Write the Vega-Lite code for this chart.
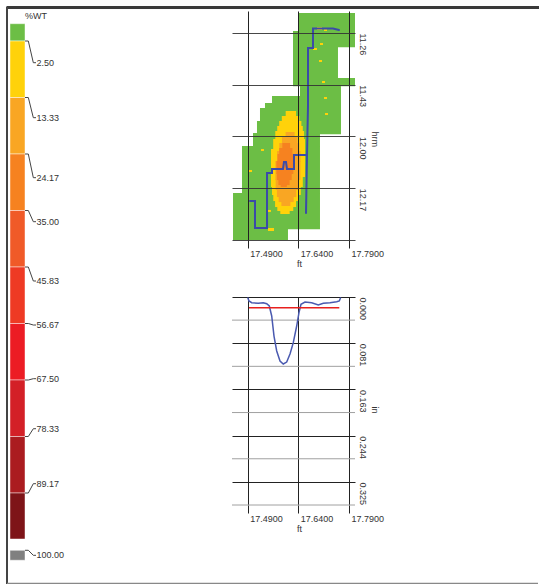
{
  "$schema": "https://vega.github.io/schema/vega-lite/v6.json",
  "background": "white",
  "padding": {"left": 5, "top": 5, "right": 0, "bottom": 0},
  "bounds": "flush",
  "spacing": 144,
  "config": {
    "view": {"stroke": null},
    "axis": {"labelFont": "Liberation Sans", "titleFont": "Liberation Sans", "labelFontSize": 9, "titleFontSize": 9, "labelColor": "#333", "titleColor": "#333", "titleFontWeight": "normal", "labelFlush": false, "labelOverlap": false},
    "text": {"font": "Liberation Sans", "fontSize": 9, "fill": "#333"}
  },
  "datasets": {
    "legend": [
      {"cls": "0-2.50", "lo": -0.306, "hi": 0},
      {"cls": "2.50-13.33", "lo": 0, "hi": 1},
      {"cls": "13.33-24.17", "lo": 1, "hi": 2},
      {"cls": "24.17-35.00", "lo": 2, "hi": 3},
      {"cls": "35.00-45.83", "lo": 3, "hi": 4},
      {"cls": "45.83-56.67", "lo": 4, "hi": 5},
      {"cls": "56.67-67.50", "lo": 5, "hi": 6},
      {"cls": "67.50-78.33", "lo": 6, "hi": 7},
      {"cls": "78.33-89.17", "lo": 7, "hi": 8},
      {"cls": "89.17-100.00", "lo": 8, "hi": 8.814},
      {"cls": "100.00+", "lo": 9.014, "hi": 9.19}
    ],
    "leaders": [
      {"label": "2.50", "b": 0, "l": 0.384},
      {"label": "13.33", "b": 1, "l": 1.357},
      {"label": "24.17", "b": 2, "l": 2.419},
      {"label": "35.00", "b": 3, "l": 3.198},
      {"label": "45.83", "b": 4, "l": 4.248},
      {"label": "56.67", "b": 5, "l": 5.027},
      {"label": "67.50", "b": 6, "l": 5.977},
      {"label": "78.33", "b": 7, "l": 6.862},
      {"label": "89.17", "b": 8, "l": 7.835},
      {"label": "100.00", "b": 9.014, "l": 9.103}
    ],
    "cells": [
      {"cls": "0-2.50", "x0": 17.6390, "x1": 17.8078, "t0": 679.46, "t1": 685.77},
      {"cls": "0-2.50", "x0": 17.6242, "x1": 17.8078, "t0": 685.37, "t1": 690.69},
      {"cls": "0-2.50", "x0": 17.6242, "x1": 17.7574, "t0": 690.29, "t1": 701.20},
      {"cls": "0-2.50", "x0": 17.6242, "x1": 17.8078, "t0": 700.80, "t1": 703.50},
      {"cls": "0-2.50", "x0": 17.6449, "x1": 17.7663, "t0": 703.10, "t1": 719.26},
      {"cls": "0-2.50", "x0": 17.5620, "x1": 17.6597, "t0": 706.71, "t1": 709.41},
      {"cls": "0-2.50", "x0": 17.5412, "x1": 17.6597, "t0": 709.01, "t1": 711.05},
      {"cls": "0-2.50", "x0": 17.5264, "x1": 17.6597, "t0": 710.65, "t1": 715.32},
      {"cls": "0-2.50", "x0": 17.5175, "x1": 17.6597, "t0": 714.92, "t1": 719.26},
      {"cls": "0-2.50", "x0": 17.5057, "x1": 17.7041, "t0": 718.86, "t1": 723.53},
      {"cls": "0-2.50", "x0": 17.4731, "x1": 17.7041, "t0": 723.13, "t1": 738.97},
      {"cls": "0-2.50", "x0": 17.4465, "x1": 17.7041, "t0": 738.57, "t1": 750.46},
      {"cls": "0-2.50", "x0": 17.4465, "x1": 17.6093, "t0": 750.06, "t1": 754.0},
      {"cls": "2.50-13.33", "x0": 17.6025, "x1": 17.6333, "t0": 711.64, "t1": 713.63},
      {"cls": "2.50-13.33", "x0": 17.5910, "x1": 17.6431, "t0": 713.28, "t1": 715.27},
      {"cls": "2.50-13.33", "x0": 17.5833, "x1": 17.6490, "t0": 714.92, "t1": 716.91},
      {"cls": "2.50-13.33", "x0": 17.5774, "x1": 17.6532, "t0": 716.56, "t1": 718.56},
      {"cls": "2.50-13.33", "x0": 17.5717, "x1": 17.6570, "t0": 718.21, "t1": 721.18},
      {"cls": "2.50-13.33", "x0": 17.5655, "x1": 17.6597, "t0": 720.83, "t1": 724.47},
      {"cls": "2.50-13.33", "x0": 17.5590, "x1": 17.6597, "t0": 724.12, "t1": 733.33},
      {"cls": "2.50-13.33", "x0": 17.5590, "x1": 17.6532, "t0": 732.98, "t1": 736.62},
      {"cls": "2.50-13.33", "x0": 17.5620, "x1": 17.6473, "t0": 736.27, "t1": 739.24},
      {"cls": "2.50-13.33", "x0": 17.5658, "x1": 17.6404, "t0": 738.89, "t1": 741.21},
      {"cls": "2.50-13.33", "x0": 17.5711, "x1": 17.6333, "t0": 740.86, "t1": 743.18},
      {"cls": "2.50-13.33", "x0": 17.5777, "x1": 17.6250, "t0": 742.83, "t1": 744.50},
      {"cls": "2.50-13.33", "x0": 17.5865, "x1": 17.6144, "t0": 744.15, "t1": 745.46},
      {"cls": "13.33-24.17", "x0": 17.6022, "x1": 17.6289, "t0": 718.53, "t1": 720.53},
      {"cls": "13.33-24.17", "x0": 17.5913, "x1": 17.6375, "t0": 720.18, "t1": 722.50},
      {"cls": "13.33-24.17", "x0": 17.5836, "x1": 17.6428, "t0": 722.15, "t1": 725.12},
      {"cls": "13.33-24.17", "x0": 17.5771, "x1": 17.6464, "t0": 724.77, "t1": 728.41},
      {"cls": "13.33-24.17", "x0": 17.5720, "x1": 17.6461, "t0": 728.06, "t1": 734.32},
      {"cls": "13.33-24.17", "x0": 17.5729, "x1": 17.6404, "t0": 733.97, "t1": 737.60},
      {"cls": "13.33-24.17", "x0": 17.5765, "x1": 17.6339, "t0": 737.25, "t1": 739.90},
      {"cls": "13.33-24.17", "x0": 17.5818, "x1": 17.6262, "t0": 739.55, "t1": 741.54},
      {"cls": "13.33-24.17", "x0": 17.5898, "x1": 17.6165, "t0": 741.19, "t1": 742.83},
      {"cls": "24.17-35.00", "x0": 17.5925, "x1": 17.6156, "t0": 722.15, "t1": 724.14},
      {"cls": "24.17-35.00", "x0": 17.5833, "x1": 17.6224, "t0": 723.79, "t1": 726.11},
      {"cls": "24.17-35.00", "x0": 17.5783, "x1": 17.6256, "t0": 725.76, "t1": 728.41},
      {"cls": "24.17-35.00", "x0": 17.5750, "x1": 17.6253, "t0": 728.06, "t1": 732.35},
      {"cls": "24.17-35.00", "x0": 17.5765, "x1": 17.6203, "t0": 732.00, "t1": 734.32},
      {"cls": "24.17-35.00", "x0": 17.5809, "x1": 17.6141, "t0": 733.97, "t1": 735.96},
      {"cls": "24.17-35.00", "x0": 17.5877, "x1": 17.6061, "t0": 735.61, "t1": 736.59},
      {"cls": "2.50-13.33", "x0": 17.6952, "x1": 17.7100, "t0": 684.05, "t1": 685.04},
      {"cls": "2.50-13.33", "x0": 17.7159, "x1": 17.7248, "t0": 684.71, "t1": 685.37},
      {"cls": "2.50-13.33", "x0": 17.6834, "x1": 17.6952, "t0": 690.95, "t1": 691.61},
      {"cls": "2.50-13.33", "x0": 17.7041, "x1": 17.7130, "t0": 689.31, "t1": 689.96},
      {"cls": "2.50-13.33", "x0": 17.7011, "x1": 17.7100, "t0": 694.89, "t1": 695.55},
      {"cls": "2.50-13.33", "x0": 17.7100, "x1": 17.7189, "t0": 701.79, "t1": 702.44},
      {"cls": "2.50-13.33", "x0": 17.7159, "x1": 17.7248, "t0": 707.04, "t1": 707.70},
      {"cls": "2.50-13.33", "x0": 17.7189, "x1": 17.7278, "t0": 712.30, "t1": 712.96},
      {"cls": "2.50-13.33", "x0": 17.5294, "x1": 17.5382, "t0": 724.12, "t1": 724.77},
      {"cls": "2.50-13.33", "x0": 17.4938, "x1": 17.5027, "t0": 731.01, "t1": 731.67},
      {"cls": "2.50-13.33", "x0": 17.5472, "x1": 17.5590, "t0": 744.13, "t1": 744.79},
      {"cls": "2.50-13.33", "x0": 17.5501, "x1": 17.5679, "t0": 750.06, "t1": 751.04}
    ],
    "trace": [
      {"seg": "a", "i": 1, "ft": 17.7604, "t": 685.04},
      {"seg": "a", "i": 2, "ft": 17.7426, "t": 684.55},
      {"seg": "a", "i": 3, "ft": 17.6834, "t": 684.55},
      {"seg": "a", "i": 4, "ft": 17.6834, "t": 690.95},
      {"seg": "a", "i": 5, "ft": 17.6686, "t": 690.95},
      {"seg": "a", "i": 6, "ft": 17.6686, "t": 710.00},
      {"seg": "a", "i": 7, "ft": 17.6656, "t": 726.42},
      {"seg": "a", "i": 8, "ft": 17.6627, "t": 745.13},
      {"seg": "b", "i": 1, "ft": 17.6656, "t": 726.09},
      {"seg": "b", "i": 2, "ft": 17.6271, "t": 726.09},
      {"seg": "b", "i": 3, "ft": 17.6271, "t": 730.68},
      {"seg": "b", "i": 4, "ft": 17.6064, "t": 730.68},
      {"seg": "b", "i": 5, "ft": 17.6034, "t": 728.39},
      {"seg": "b", "i": 6, "ft": 17.5975, "t": 728.39},
      {"seg": "b", "i": 7, "ft": 17.5945, "t": 730.68},
      {"seg": "b", "i": 8, "ft": 17.5620, "t": 730.68},
      {"seg": "b", "i": 9, "ft": 17.5620, "t": 732.00},
      {"seg": "b", "i": 10, "ft": 17.5472, "t": 732.00},
      {"seg": "b", "i": 11, "ft": 17.5472, "t": 750.06},
      {"seg": "b", "i": 12, "ft": 17.5116, "t": 750.06},
      {"seg": "b", "i": 13, "ft": 17.5116, "t": 741.19},
      {"seg": "b", "i": 14, "ft": 17.4968, "t": 741.19}
    ],
    "profile": [
      {"i": 1, "ft": 17.4900, "d": 0.0008},
      {"i": 2, "ft": 17.4938, "d": 0.0070},
      {"i": 3, "ft": 17.5018, "d": 0.0100},
      {"i": 4, "ft": 17.5214, "d": 0.0111},
      {"i": 5, "ft": 17.5362, "d": 0.0100},
      {"i": 6, "ft": 17.5463, "d": 0.0118},
      {"i": 7, "ft": 17.5540, "d": 0.0158},
      {"i": 8, "ft": 17.5611, "d": 0.0334},
      {"i": 9, "ft": 17.5679, "d": 0.0686},
      {"i": 10, "ft": 17.5759, "d": 0.0949},
      {"i": 11, "ft": 17.5857, "d": 0.1125},
      {"i": 12, "ft": 17.5954, "d": 0.1178},
      {"i": 13, "ft": 17.6055, "d": 0.1143},
      {"i": 14, "ft": 17.6153, "d": 0.1002},
      {"i": 15, "ft": 17.6250, "d": 0.0803},
      {"i": 16, "ft": 17.6351, "d": 0.0510},
      {"i": 17, "ft": 17.6419, "d": 0.0276},
      {"i": 18, "ft": 17.6478, "d": 0.0128},
      {"i": 19, "ft": 17.6597, "d": 0.0088},
      {"i": 20, "ft": 17.6795, "d": 0.0100},
      {"i": 21, "ft": 17.6991, "d": 0.0141},
      {"i": 22, "ft": 17.7139, "d": 0.0111},
      {"i": 23, "ft": 17.7337, "d": 0.0100},
      {"i": 24, "ft": 17.7536, "d": 0.0083},
      {"i": 25, "ft": 17.7613, "d": 0.0070},
      {"i": 26, "ft": 17.7654, "d": 0.0008}
    ],
    "ref": [
      {"x0": 17.4938, "x1": 17.7613, "d": 0.0188}
    ],
    "minor": [
      {"d": 0.040625}, {"d": 0.121875}, {"d": 0.203125}, {"d": 0.284375}, {"d": 0.365625}
    ]
  },
  "hconcat": [
    {
      "width": 80,
      "height": 555,
      "layer": [
        {
          "data": {"name": "legend"},
          "mark": {"type": "rect", "stroke": "#ffffff", "strokeOpacity": 0.45, "strokeWidth": 1},
          "encoding": {
            "x": {"datum": 0.5, "type": "quantitative", "scale": {"domain": [0, 20], "nice": false, "zero": false}, "axis": null},
            "x2": {"datum": 4.25},
            "y": {"field": "lo", "type": "quantitative", "scale": {"domain": [-0.531, 9.292], "nice": false, "zero": false, "reverse": true}, "axis": null},
            "y2": {"field": "hi"},
            "color": {
              "field": "cls", "type": "nominal", "legend": null,
              "scale": {
                "domain": ["0-2.50", "2.50-13.33", "13.33-24.17", "24.17-35.00", "35.00-45.83", "45.83-56.67", "56.67-67.50", "67.50-78.33", "78.33-89.17", "89.17-100.00", "100.00+"],
                "range": ["#6CBE45", "#FFD20A", "#F9A623", "#F68220", "#F05A28", "#EE3A24", "#EC1C24", "#D32027", "#AB1C20", "#7E1418", "#808080"]
              }
            }
          }
        },
        {
          "data": {"name": "leaders"},
          "mark": {"type": "rule", "color": "#444", "strokeWidth": 1},
          "encoding": {
            "x": {"datum": 4.25, "type": "quantitative"},
            "x2": {"datum": 5.08},
            "y": {"field": "b", "type": "quantitative"}
          }
        },
        {
          "data": {"name": "leaders"},
          "mark": {"type": "rule", "color": "#444", "strokeWidth": 1},
          "encoding": {
            "x": {"datum": 5.08, "type": "quantitative"},
            "x2": {"datum": 6.33},
            "y": {"field": "b", "type": "quantitative"},
            "y2": {"field": "l"}
          }
        },
        {
          "data": {"name": "leaders"},
          "mark": {"type": "rule", "color": "#444", "strokeWidth": 1},
          "encoding": {
            "x": {"datum": 6.33, "type": "quantitative"},
            "x2": {"datum": 7.0},
            "y": {"field": "l", "type": "quantitative"}
          }
        },
        {
          "data": {"name": "leaders"},
          "mark": {"type": "text", "align": "left", "baseline": "middle"},
          "encoding": {
            "x": {"datum": 7.15, "type": "quantitative"},
            "y": {"field": "l", "type": "quantitative"},
            "text": {"field": "label"}
          }
        },
        {
          "data": {"values": [{"t": "%WT"}]},
          "mark": {"type": "text", "align": "center", "baseline": "middle"},
          "encoding": {
            "x": {"datum": 7.0, "type": "quantitative"},
            "y": {"datum": -0.434, "type": "quantitative"},
            "text": {"field": "t"}
          }
        },
        {
          "data": {"values": [{}]},
          "mark": {"type": "rule", "color": "#3a3a3a", "strokeWidth": 3, "clip": false},
          "encoding": {
            "x": {"datum": -0.375, "type": "quantitative"},
            "x2": {"datum": 132.75},
            "y": {"datum": -0.5929, "type": "quantitative"}
          }
        },
        {
          "data": {"values": [{}]},
          "mark": {"type": "rule", "color": "#444444", "strokeWidth": 2, "clip": false},
          "encoding": {
            "x": {"datum": -0.25, "type": "quantitative"},
            "y": {"datum": -0.6018, "type": "quantitative"},
            "y2": {"datum": 9.6106}
          }
        },
        {
          "data": {"values": [{}]},
          "mark": {"type": "rule", "color": "#888888", "strokeWidth": 1.5, "clip": false},
          "encoding": {
            "x": {"datum": -0.25, "type": "quantitative"},
            "x2": {"datum": 132.5},
            "y": {"datum": 9.6018, "type": "quantitative"}
          }
        }
      ]
    },
    {
      "vconcat": [
        {
          "width": 123,
          "height": 229,
          "layer": [
            {
              "data": {"name": "cells"},
              "mark": {"type": "rect", "clip": true},
              "encoding": {
                "x": {
                  "field": "x0", "type": "quantitative",
                  "scale": {"domain": [17.4435, 17.8078], "nice": false, "zero": false},
                  "axis": {"orient": "bottom", "values": [17.49, 17.64, 17.79], "format": ".4f", "grid": true, "gridColor": "#222", "gridOpacity": 1, "tickColor": "#222", "tickSize": 8, "domain": false, "labelAlign": "left", "labelOffset": 2, "labelPadding": 1, "labelBaseline": "top", "title": "ft", "titlePadding": 1, "titleX": 67, "zindex": 1}
                },
                "x2": {"field": "x1"},
                "y": {
                  "field": "t0", "type": "quantitative",
                  "scale": {"domain": [678.8, 754], "nice": false, "zero": false, "reverse": true},
                  "axis": {"orient": "right", "values": [686, 703, 720, 737, 754], "labelExpr": "datum.value >= 754 ? '' : floor(datum.value / 60) + '.' + (datum.value % 60 < 10 ? '0' : '') + (datum.value % 60)", "grid": true, "gridColor": "#333", "gridOpacity": 0.9, "ticks": false, "domain": false, "labelAngle": 90, "labelAlign": "left", "labelBaseline": "bottom", "labelPadding": 2, "title": "hrm", "titleAngle": 90, "titleAlign": "left", "titleY": 120, "titlePadding": 3, "zindex": 1}
                },
                "y2": {"field": "t1"},
                "color": {
                  "field": "cls", "type": "nominal", "legend": null,
                  "scale": {
                    "domain": ["0-2.50", "2.50-13.33", "13.33-24.17", "24.17-35.00", "35.00-45.83", "45.83-56.67", "56.67-67.50", "67.50-78.33", "78.33-89.17", "89.17-100.00", "100.00+"],
                    "range": ["#6CBE45", "#FFD20A", "#F9A623", "#F68220", "#F05A28", "#EE3A24", "#EC1C24", "#D32027", "#AB1C20", "#7E1418", "#808080"]
                  }
                }
              }
            },
            {
              "data": {"name": "trace"},
              "mark": {"type": "line", "color": "#3B4BA8", "strokeWidth": 2, "strokeCap": "round", "clip": true},
              "encoding": {
                "x": {"field": "ft", "type": "quantitative"},
                "y": {"field": "t", "type": "quantitative"},
                "detail": {"field": "seg"},
                "order": {"field": "i", "type": "quantitative"}
              }
            }
          ]
        },
        {
          "width": 123,
          "height": 208,
          "layer": [
            {
              "data": {"name": "minor"},
              "mark": {"type": "rule", "color": "#a0a0a0", "strokeWidth": 1},
              "encoding": {
                "y": {
                  "field": "d", "type": "quantitative",
                  "scale": {"domain": [0, 0.365625], "nice": false, "zero": false, "reverse": true},
                  "axis": {"orient": "right", "values": [0, 0.08125, 0.1625, 0.24375, 0.325], "labelExpr": "format(datum.value + 1e-9, '.3f')", "grid": true, "gridColor": "#222", "gridOpacity": 1, "ticks": false, "domain": false, "labelAngle": 90, "labelAlign": "left", "labelBaseline": "bottom", "labelPadding": 2, "title": "in", "titleAngle": 90, "titleAlign": "left", "titleY": 109, "titlePadding": 3}
                }
              }
            },
            {
              "data": {"name": "profile"},
              "mark": {"type": "line", "color": "#4A5AB0", "strokeWidth": 1.5},
              "encoding": {
                "x": {
                  "field": "ft", "type": "quantitative",
                  "scale": {"domain": [17.4435, 17.8078], "nice": false, "zero": false},
                  "axis": {"orient": "bottom", "values": [17.49, 17.64, 17.79], "format": ".4f", "grid": true, "gridColor": "#222", "gridOpacity": 1, "tickColor": "#222", "tickSize": 8, "domain": false, "labelAlign": "left", "labelOffset": 2, "labelPadding": 1, "labelBaseline": "top", "title": "ft", "titlePadding": 1, "titleX": 67}
                },
                "y": {"field": "d", "type": "quantitative"},
                "order": {"field": "i", "type": "quantitative"}
              }
            },
            {
              "data": {"name": "ref"},
              "mark": {"type": "rule", "color": "#E8201E", "strokeWidth": 1.5},
              "encoding": {
                "x": {"field": "x0", "type": "quantitative"},
                "x2": {"field": "x1"},
                "y": {"field": "d", "type": "quantitative"}
              }
            }
          ]
        }
      ],
      "spacing": 57,
      "bounds": "flush"
    }
  ]
}
